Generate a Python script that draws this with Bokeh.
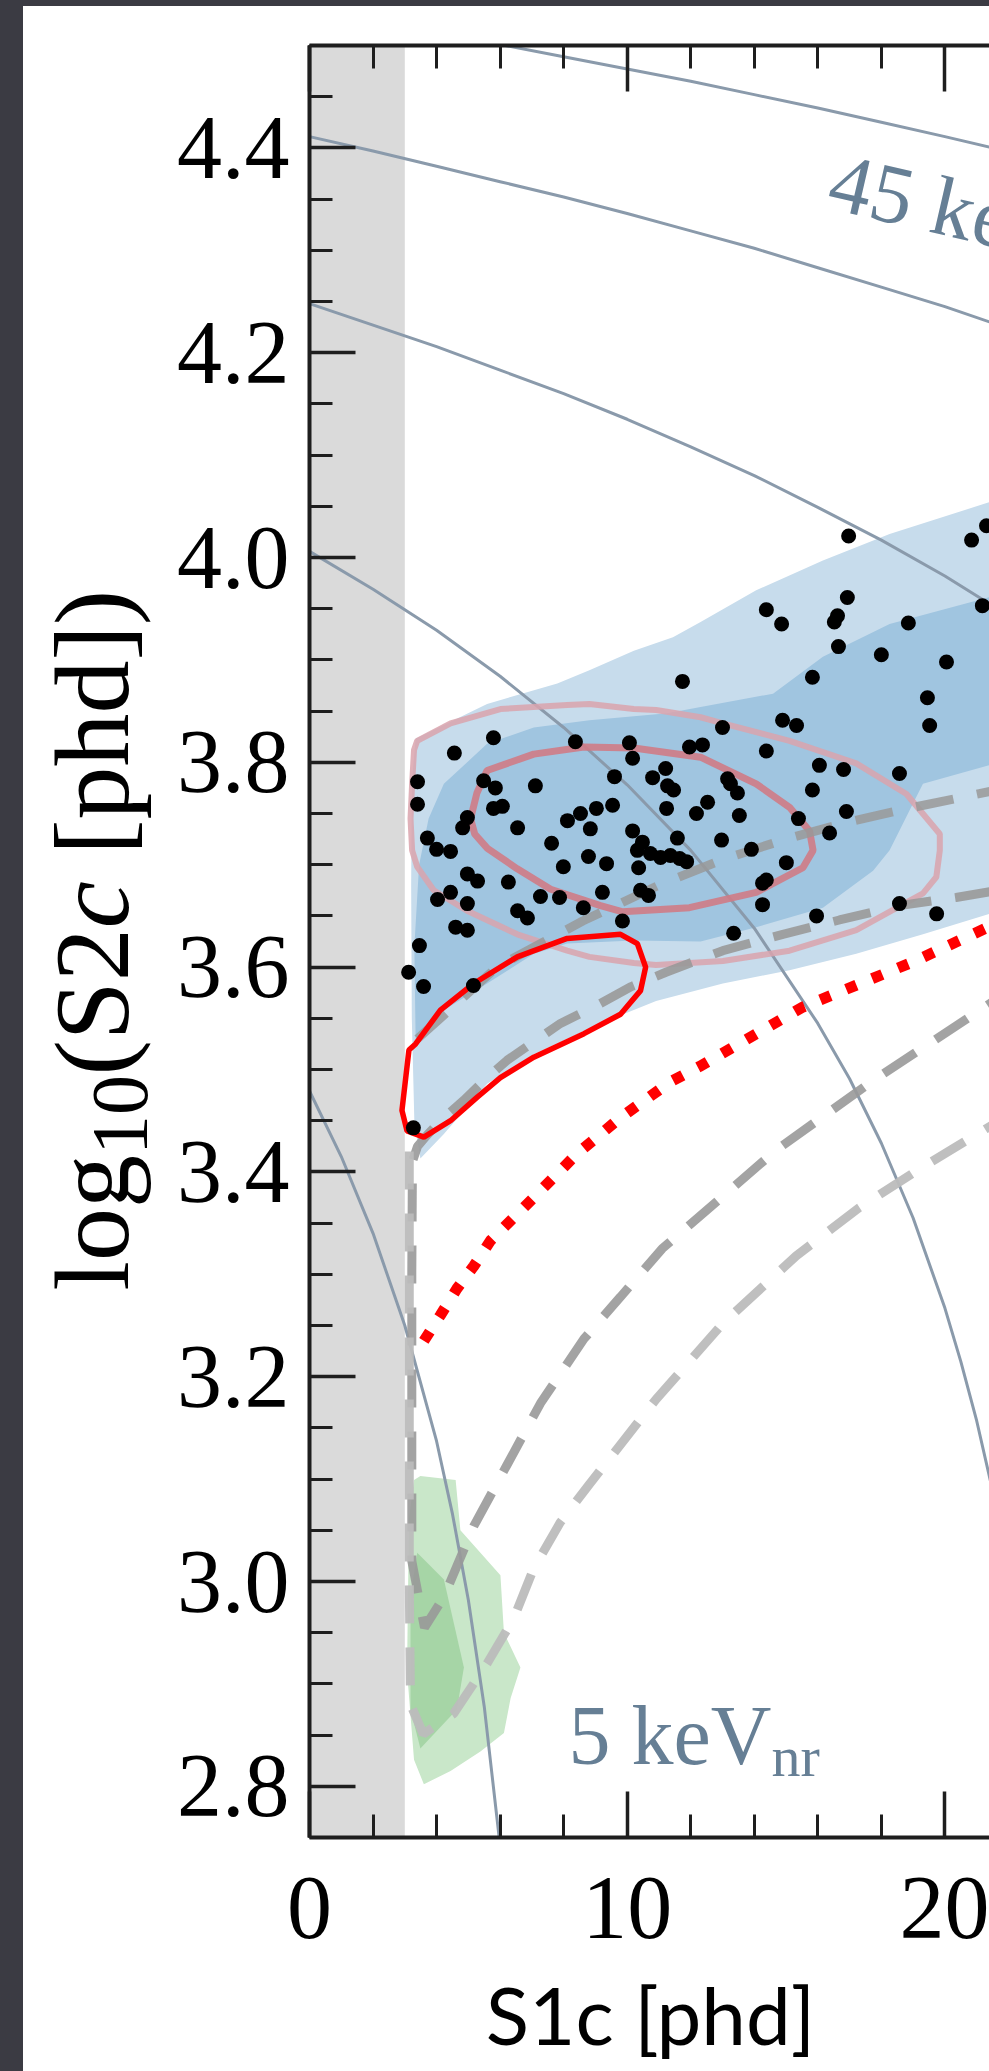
import numpy as np
from bokeh.plotting import figure
from bokeh.models import (Range1d, LinearAxis, SingleIntervalTicker, PrintfTickFormatter,
                          Label, BoxAnnotation, Spacer)
from bokeh.layouts import row, column
from bokeh.embed import file_html
from bokeh.resources import INLINE

PAGE_BG = "#3b3b43"
SERIF = "Liberation Serif"
ENERGY_COLOR = "#8a9aab"
ENERGY_TEXT = "#667f95"

# ---------------- data ----------------
s1_threshold = 3.0          # S1c analysis threshold [phd]
s1_axis = (0.0, 21.404)
log_s2_axis = (2.75, 4.5)

# constant-energy contours (S1c [phd], log10 S2c)
e45_s1 = [6.16, 8.0, 10.0, 12.0, 14.0, 16.0, 18.0, 20.0, 21.5]
e45_s2 = [4.500, 4.489, 4.477, 4.465, 4.452, 4.439, 4.425, 4.411, 4.400]
e35_s1 = [0, 2, 4, 6, 8, 10, 12, 14, 16, 18, 20, 21.5]
e35_s2 = [4.411, 4.397, 4.382, 4.367, 4.352, 4.336, 4.319, 4.302, 4.283, 4.264, 4.245, 4.229]
e25_s1 = [0, 2, 4, 6, 8, 10, 12, 14, 16, 18, 20, 21.5]
e25_s2 = [4.248, 4.227, 4.206, 4.183, 4.160, 4.135, 4.108, 4.080, 4.049, 4.017, 3.982, 3.953]
e15_s1 = [0, 2, 4, 6, 8, 10, 12, 14, 16, 17, 18, 19, 20, 20.5, 21, 21.5]
e15_s2 = [4.006, 3.969, 3.929, 3.884, 3.834, 3.778, 3.714, 3.638, 3.545, 3.491, 3.428,
          3.355, 3.267, 3.215, 3.157, 3.089]
e5_s1 = [0, 1, 2, 3, 4, 4.5, 5, 5.5, 5.97]
e5_s2 = [3.479, 3.415, 3.340, 3.250, 3.137, 3.066, 2.982, 2.878, 2.750]

# signal-model density (two levels)
blue_outer_s1 = [3.22, 3.34, 5.59, 7.80, 8.81, 10.21, 11.44, 12.31, 14.06, 16.16, 18.26, 21.5,
                 21.5, 19.31, 17.21, 15.11, 13.01, 10.91, 9.16, 7.06, 5.59, 4.23, 3.49, 3.30,
                 3.22, 3.20]
blue_outer_s2 = [3.780, 3.823, 3.857, 3.877, 3.890, 3.909, 3.922, 3.937, 3.968, 3.997, 4.023, 4.055,
                 3.653, 3.632, 3.613, 3.597, 3.584, 3.567, 3.545, 3.515, 3.486, 3.437, 3.413, 3.450,
                 3.550, 3.680]
blue_inner_s1 = [3.30, 3.45, 3.75, 4.23, 5.59, 7.06, 8.81, 11.26, 12.31, 14.59, 16.16, 18.26, 21.5,
                 21.5, 19.31, 19.0, 18.26, 17.74, 16.16, 14.06, 12.31, 10.21, 8.11, 7.06, 5.59,
                 4.23, 3.34]
blue_inner_s2 = [3.620, 3.700, 3.745, 3.779, 3.818, 3.834, 3.841, 3.848, 3.854, 3.867, 3.903, 3.935,
                 3.962, 3.798, 3.779, 3.760, 3.714, 3.694, 3.658, 3.639, 3.625, 3.626, 3.623, 3.613,
                 3.584, 3.558, 3.530]

# nuclear-recoil background density (two levels)
green_outer_s1 = [3.29, 3.49, 4.60, 4.75, 6.01, 6.12, 6.64, 6.33, 6.12, 5.38, 4.44, 3.60, 3.29,
                  3.07, 3.13]
green_outer_s2 = [3.099, 3.103, 3.099, 3.050, 3.006, 2.950, 2.916, 2.886, 2.852, 2.834, 2.815,
                  2.802, 2.826, 2.912, 3.061]
green_inner_s1 = [3.18, 3.39, 4.23, 4.86, 4.64, 3.49, 3.18]
green_inner_s2 = [2.987, 3.028, 3.002, 2.916, 2.875, 2.837, 2.875]

# data-density contours
pink_outer_s1 = [3.23, 3.29, 3.39, 4.44, 6.01, 8.11, 8.81, 10.21, 10.91, 12.31, 13.01, 15.11, 17.21,
                 18.79, 19.84, 19.84, 19.73, 19.31, 17.21, 15.11, 13.01, 10.91, 10.21, 8.81, 8.11,
                 6.54, 4.96, 3.91, 3.39, 3.23, 3.18]
pink_outer_s2 = [3.779, 3.812, 3.821, 3.838, 3.852, 3.856, 3.857, 3.852, 3.851, 3.844, 3.838, 3.821,
                 3.799, 3.769, 3.730, 3.714, 3.688, 3.672, 3.636, 3.616, 3.606, 3.602, 3.604, 3.610,
                 3.616, 3.632, 3.655, 3.675, 3.698, 3.714, 3.745]
pink_inner_s1 = [5.07, 5.27, 5.59, 7.06, 8.64, 10.21, 12.31, 14.06, 15.11, 15.74, 15.85, 15.53,
                 14.06, 11.96, 9.86, 9.16, 7.59, 6.54, 5.60, 5.20]
pink_inner_s2 = [3.745, 3.770, 3.792, 3.808, 3.815, 3.814, 3.805, 3.779, 3.756, 3.733, 3.714, 3.697,
                 3.673, 3.658, 3.654, 3.660, 3.676, 3.696, 3.716, 3.730]

# signal region contour
red_loop_s1 = [9.79, 8.11, 6.54, 5.17, 4.12, 3.34, 3.13, 2.91, 3.07, 3.60, 4.44, 5.28, 6.01, 7.06,
               8.64, 9.79, 10.42, 10.58, 10.32]
red_loop_s2 = [3.632, 3.628, 3.610, 3.584, 3.558, 3.525, 3.519, 3.460, 3.440, 3.434, 3.450, 3.473,
               3.492, 3.512, 3.535, 3.554, 3.577, 3.600, 3.623]

# reference line
red_dotted_s1 = [3.60, 4.12, 4.64, 5.17, 5.70, 7.06, 8.43, 9.79, 11.36, 12.28, 15.53, 18.99, 21.5]
red_dotted_s2 = [3.235, 3.260, 3.286, 3.308, 3.333, 3.375, 3.418, 3.453, 3.488, 3.503, 3.561, 3.605,
                 3.641]

# band lines
band_upper_s1 = [3.40, 5.90, 8.60, 11.0, 13.0, 15.0, 17.0, 19.0, 21.5]
band_upper_s2 = [3.530, 3.600, 3.645, 3.680, 3.705, 3.725, 3.742, 3.756, 3.772]
band_mid_s1 = [21.5, 20.35, 18.57, 16.68, 14.90, 13.01, 11.22, 10.13, 8.95, 7.90, 6.22, 5.59, 4.86,
               4.23, 3.70, 3.40, 3.24, 3.22, 3.22, 3.22, 3.62, 4.23, 5.17, 6.22, 7.27, 8.64, 9.79,
               11.10, 14.68, 17.73, 21.5]
band_mid_s2 = [3.674, 3.668, 3.660, 3.646, 3.632, 3.616, 3.595, 3.581, 3.561, 3.545, 3.509, 3.492,
               3.470, 3.453, 3.436, 3.425, 3.410, 3.300, 3.150, 3.020, 2.955, 2.985, 3.054, 3.114,
               3.174, 3.237, 3.278, 3.325, 3.421, 3.489, 3.566]
band_low_s1 = [3.14, 3.14, 3.14, 3.18, 3.58, 4.54, 5.59, 6.43, 7.06, 7.90, 8.81, 10.91, 13.01,
               15.32, 17.30, 19.31, 21.5]
band_low_s2 = [3.420, 3.200, 3.000, 2.880, 2.851, 2.871, 2.920, 2.964, 3.013, 3.058, 3.095, 3.178,
               3.252, 3.318, 3.365, 3.405, 3.446]

# events
event_s1 = [16.97, 20.84, 21.31, 14.38, 14.86, 16.93, 16.62, 16.52, 18.85, 21.18, 16.65, 18.00,
            20.05, 15.83, 11.74, 19.45, 19.52, 14.89, 15.33, 13.00, 10.07, 10.17, 11.96, 12.37,
            14.38, 16.05, 16.81, 18.57, 9.60, 10.80, 11.21, 11.27, 11.46, 13.16, 13.25, 13.47,
            15.83, 9.03, 9.54, 11.24, 12.18, 12.53, 13.53, 15.39, 16.90, 10.17, 11.58, 12.97,
            13.91, 16.37, 10.48,
            5.79, 4.56, 8.37, 3.40, 3.40, 5.48, 5.85, 7.11, 5.79, 6.07, 4.97, 4.82, 6.55, 8.12,
            8.53, 3.71, 4.00, 4.44, 7.62, 8.84, 8.78, 9.35, 10.32, 10.73, 11.05, 11.36, 11.65,
            11.87, 10.36, 7.99, 4.97, 5.29, 6.26, 4.03, 4.44, 4.97, 7.27, 7.87, 9.22, 10.42,
            10.67, 6.55, 6.86, 8.62, 9.85, 4.60, 4.97, 3.46, 3.12, 3.59, 5.16, 3.27, 15.01,
            14.38, 14.26, 14.26, 15.96, 18.57, 19.74, 13.35]
event_s2 = [4.021, 4.017, 4.031, 3.949, 3.935, 3.961, 3.943, 3.937, 3.936, 3.953, 3.913, 3.905,
            3.898, 3.883, 3.879, 3.863, 3.836, 3.841, 3.836, 3.834, 3.819, 3.804, 3.815, 3.817,
            3.811, 3.797, 3.793, 3.789, 3.786, 3.785, 3.794, 3.777, 3.773, 3.784, 3.779, 3.770,
            3.773, 3.755, 3.758, 3.755, 3.750, 3.761, 3.748, 3.745, 3.752, 3.733, 3.726, 3.724,
            3.715, 3.731, 3.722,
            3.824, 3.809, 3.820, 3.781, 3.759, 3.782, 3.775, 3.777, 3.755, 3.757, 3.746, 3.736,
            3.736, 3.743, 3.750, 3.726, 3.715, 3.713, 3.721, 3.735, 3.708, 3.701, 3.714, 3.711,
            3.707, 3.709, 3.706, 3.703, 3.697, 3.698, 3.691, 3.684, 3.683, 3.666, 3.673, 3.662,
            3.669, 3.668, 3.673, 3.675, 3.670, 3.655, 3.648, 3.658, 3.645, 3.639, 3.636, 3.621,
            3.595, 3.581, 3.582, 3.443, 3.702, 3.685, 3.682, 3.661, 3.650, 3.662, 3.652, 3.633]

x_major_step = 10
y_major_step = 0.2

# ---------------- geometry ----------------
FIG_W, FIG_H = 966, 2065
AXIS_LEFT_PX, AXIS_TOP_PX, AXIS_BOTTOM_PX = 286, 39, 1831   # inside the figure
px_per_s1 = (FIG_W - AXIS_LEFT_PX) / (s1_axis[1] - s1_axis[0])
px_per_dec = (AXIS_BOTTOM_PX - AXIS_TOP_PX) / (log_s2_axis[1] - log_s2_axis[0])
x_view = (s1_axis[0] - AXIS_LEFT_PX / px_per_s1, s1_axis[1])
y_view = (log_s2_axis[0] - (FIG_H - AXIS_BOTTOM_PX) / px_per_dec,
          log_s2_axis[1] + AXIS_TOP_PX / px_per_dec)

p = figure(width=FIG_W, height=FIG_H,
           x_range=Range1d(*x_view), y_range=Range1d(*y_view),
           x_axis_location=None, y_axis_location=None,
           output_backend="svg", toolbar_location=None,
           min_border=0, min_border_left=0, min_border_right=0,
           min_border_top=0, min_border_bottom=0,
           background_fill_color="white", border_fill_color="white",
           outline_line_color=None)
p.grid.visible = False

xt = SingleIntervalTicker(interval=x_major_step, num_minor_ticks=5)
yt = SingleIntervalTicker(interval=y_major_step, num_minor_ticks=4)

bottom_axis = LinearAxis(ticker=xt, fixed_location=log_s2_axis[0], bounds=s1_axis)
top_axis = LinearAxis(ticker=xt, fixed_location=log_s2_axis[1], bounds=s1_axis)
left_axis = LinearAxis(ticker=yt, fixed_location=s1_axis[0], bounds=log_s2_axis,
                       formatter=PrintfTickFormatter(format="%.1f"))
p.add_layout(bottom_axis, "below")
p.add_layout(top_axis, "above")
p.add_layout(left_axis, "left")

for ax in (bottom_axis, top_axis, left_axis):
    ax.axis_line_width = 4
    ax.axis_line_color = "#1e1e1e"
    ax.major_tick_line_width = 3.5
    ax.minor_tick_line_width = 3
    ax.major_tick_line_color = "#1e1e1e"
    ax.minor_tick_line_color = "#1e1e1e"
    ax.major_tick_in = 46
    ax.major_tick_out = 0
    ax.minor_tick_in = 23
    ax.minor_tick_out = 0
    ax.major_label_text_font = SERIF
    ax.major_label_text_font_size = "90px"
    ax.major_label_text_color = "black"

top_axis.major_label_text_alpha = 0
left_axis.major_label_standoff = 20
bottom_axis.major_label_standoff = 40

# threshold band
p.add_layout(BoxAnnotation(left=s1_axis[0], right=s1_threshold,
                           bottom=log_s2_axis[0], top=log_s2_axis[1],
                           fill_color="#dadada", fill_alpha=1.0, line_color=None,
                           level="underlay"))

# filled densities
p.patch(blue_outer_s1, blue_outer_s2, fill_color="#c7dcec", line_color=None)
p.patch(blue_inner_s1, blue_inner_s2, fill_color="#a0c5e0", line_color=None)
p.patch(green_outer_s1, green_outer_s2, fill_color="#c9e7c9", line_color=None)
p.patch(green_inner_s1, green_inner_s2, fill_color="#a6d5a6", line_color=None)

# energy contours
for xs, ys in ((e45_s1, e45_s2), (e35_s1, e35_s2), (e25_s1, e25_s2),
               (e15_s1, e15_s2), (e5_s1, e5_s2)):
    p.line(xs, ys, line_color=ENERGY_COLOR, line_width=3)

# density contours
p.patch(pink_outer_s1, pink_outer_s2, fill_color=None, line_color="#d9a3ad",
        line_width=6, line_alpha=0.85)
p.patch(pink_inner_s1, pink_inner_s2, fill_color=None, line_color="#cf7b86",
        line_width=7, line_alpha=0.9)

# band lines
DASH = "38 24"
p.line(band_upper_s1, band_upper_s2, line_color="#999999", line_alpha=0.85, line_width=9,
       line_dash=DASH)
p.line(band_mid_s1, band_mid_s2, line_color="#999999", line_alpha=0.9, line_width=9,
       line_dash=DASH)
p.line(band_low_s1, band_low_s2, line_color="#bcbcbc", line_alpha=0.95, line_width=9,
       line_dash=DASH)

# reference line
p.line(red_dotted_s1, red_dotted_s2, line_color="#ff0000", line_width=11, line_dash="11 17")

# signal region
p.patch(red_loop_s1, red_loop_s2, fill_color=None, line_color="#ff0000", line_width=5.5)

# events
p.scatter(event_s1, event_s2, size=15, fill_color="black", line_color=None)


def fig_x(px):
    """figure-pixel column -> S1c coordinate"""
    return x_view[0] + px / px_per_s1


def fig_y(py):
    """figure-pixel row (from top) -> log10 S2c coordinate"""
    return y_view[1] - py / px_per_dec


# the renderer sets the alphabetic baseline about 0.35 em below the anchor,
# so anchors are raised by that amount along the text's own vertical
BASE_SHIFT = 0.35


def text_label(text, bx, by, size, angle=0.0, font=SERIF, color="black", style="normal",
               align="left"):
    """place text with its baseline start at figure pixel (bx, by)"""
    a = np.radians(angle)
    up_x, up_y = -np.sin(a), -np.cos(a)          # text 'up' direction, screen y down
    d = BASE_SHIFT * size
    ax_, ay_ = bx + up_x * d, by + up_y * d
    p.add_layout(Label(x=fig_x(ax_), y=fig_y(ay_), text=text, angle=angle, angle_units="deg",
                       text_font=font, text_font_size=f"{size:.0f}px", text_font_style=style,
                       text_color=color, text_baseline="alphabetic", text_align=align))


# energy labels
text_label("45 keV", 801, 202, 84, angle=-13, color=ENERGY_TEXT)
text_label("5 keV", 545, 1758, 84, color=ENERGY_TEXT)
text_label("nr", 545 + 2.416 * 84, 1770, 58, color=ENERGY_TEXT)

# x-axis title
text_label("S1c [phd]", 627, 2035, 80, font="Lato", align="center")

# y-axis title, set piecewise for the subscript and italic
TIMES_W = {"l": 0.278, "o": 0.5, "g": 0.5, "1": 0.5, "0": 0.5, "(": 0.333, "S": 0.556,
           "2": 0.5, "c": 0.444, " ": 0.25, "[": 0.333, "p": 0.5, "h": 0.5, "d": 0.5,
           "]": 0.333, ")": 0.333}
title_size = 106
base_px = 106          # baseline column of the rotated title
y_px = 1284            # where the title starts (bottom end)
pieces = [("log", 1.0, 0, "normal", 0.0), ("10", 0.75, 19, "normal", 0.0),
          ("(S2", 1.0, 0, "normal", 0.0), ("c", 1.0, 0, "italic", 0.0),
          ("[phd])", 1.0, 0, "normal", 0.25)]
for txt, scale, shift, style, gap in pieces:
    size = title_size * scale
    y_px -= gap * title_size
    text_label(txt, base_px + shift, y_px, size, angle=90, style=style)
    y_px -= sum(TIMES_W[ch] for ch in txt) * size

left_pad = Spacer(width=23, height=2071, styles={"background-color": PAGE_BG})
top_pad = Spacer(width=FIG_W, height=6, styles={"background-color": PAGE_BG})
page = row(left_pad, column(top_pad, p))

open("out.html", "w").write(file_html(page, INLINE))
